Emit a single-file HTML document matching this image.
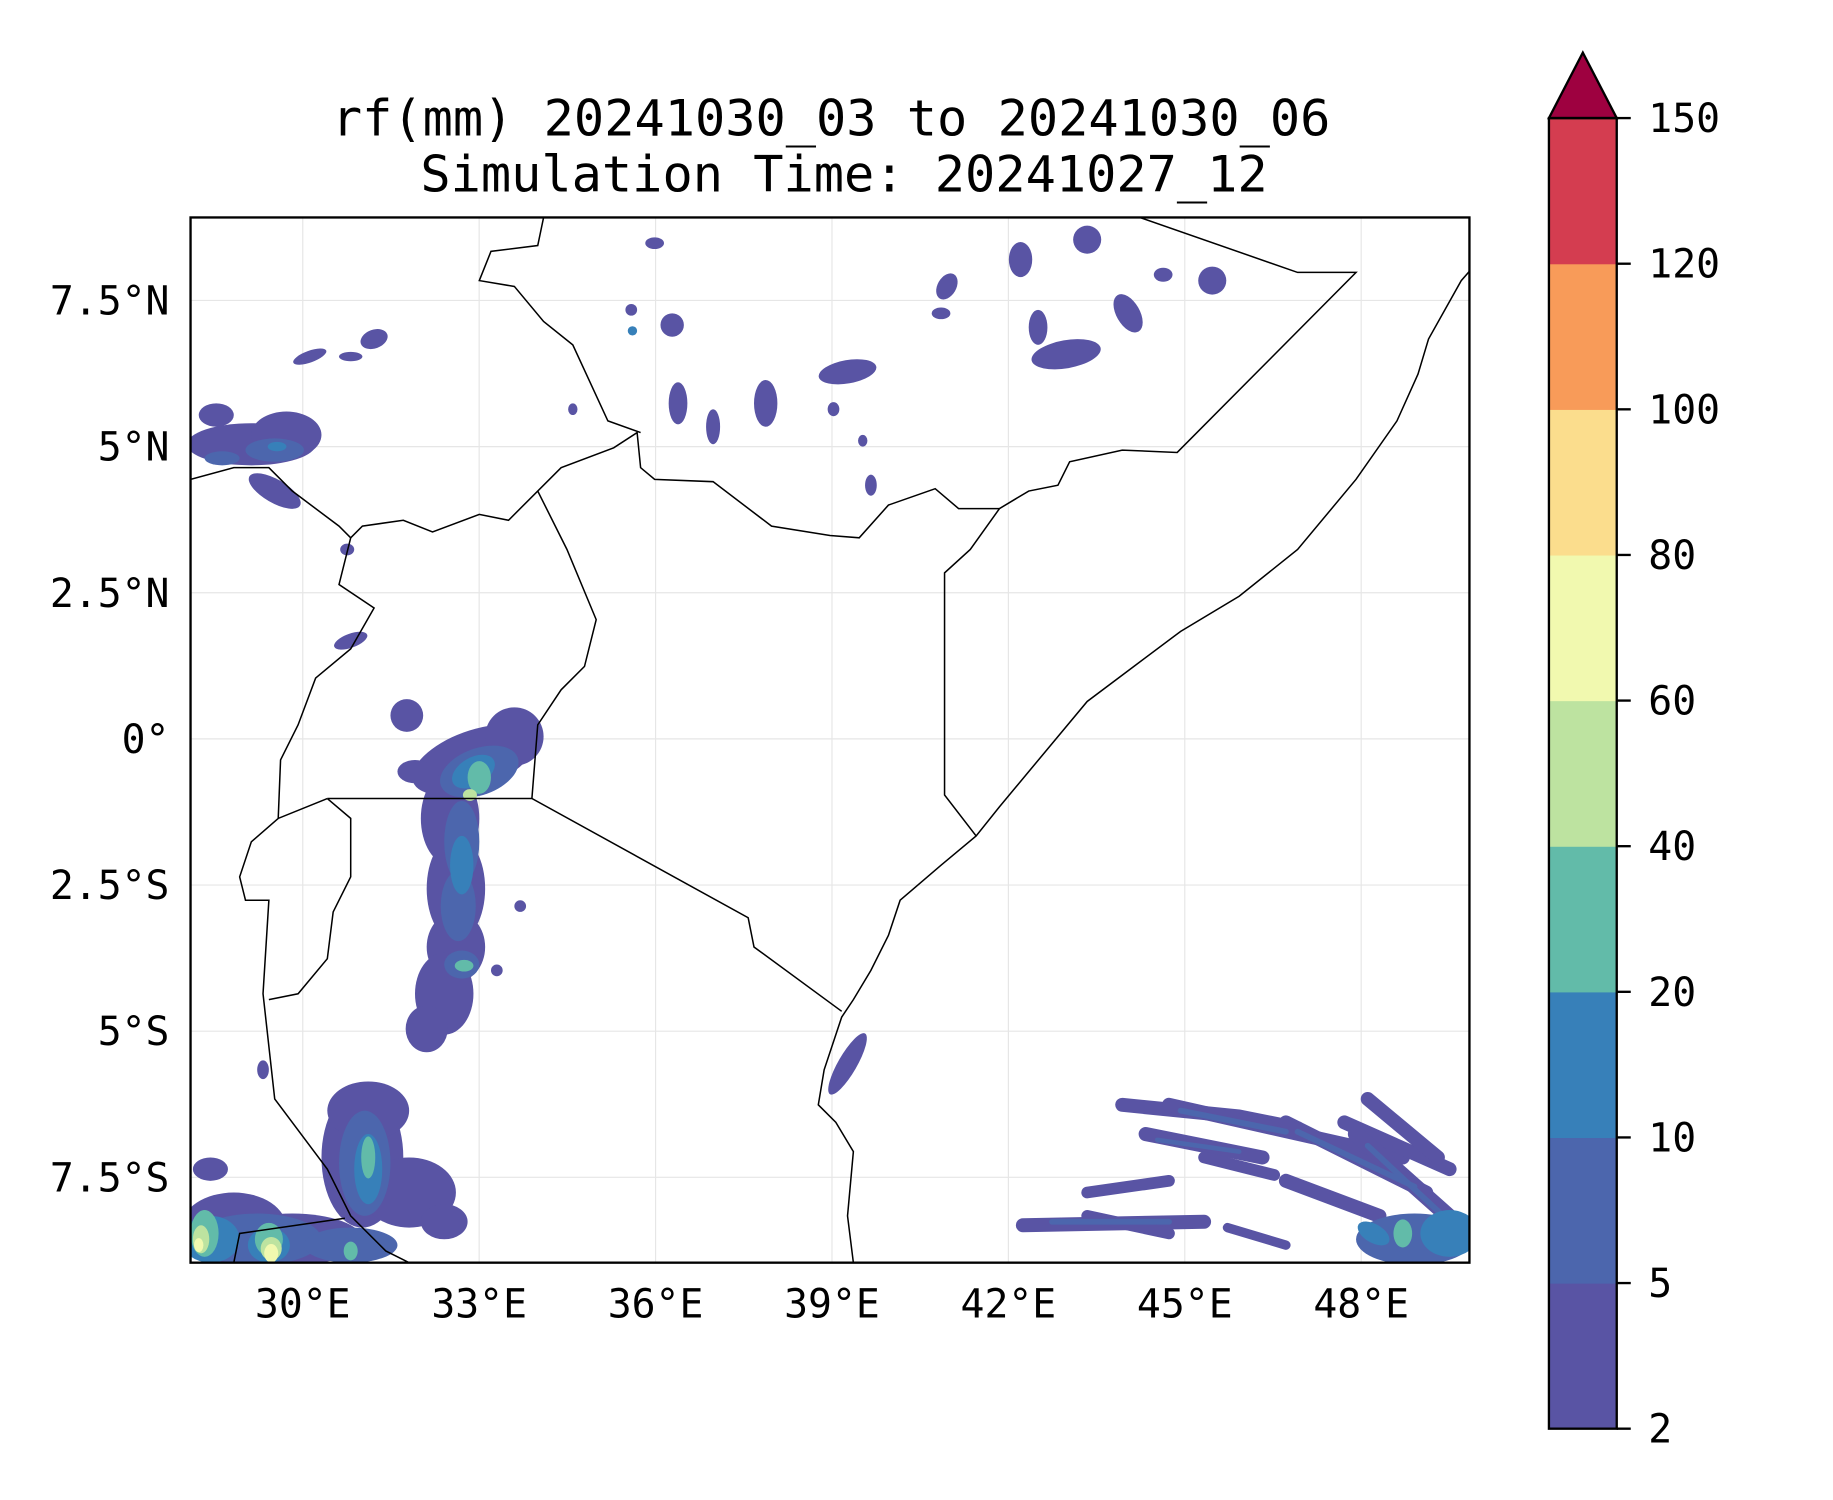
<!DOCTYPE html>
<html><head><meta charset="utf-8"><style>
html,body{margin:0;padding:0;background:#fff;}
svg{display:block;}
text{font-family:"DejaVu Sans Mono","Liberation Mono",monospace;fill:#000;}
</style></head><body>
<svg width="1833" height="1500" viewBox="0 0 1568 1283" preserveAspectRatio="none" xmlns="http://www.w3.org/2000/svg">
<defs><clipPath id="axclip"><rect x="163" y="186" width="1094" height="894"/></clipPath></defs>
<text x="711" y="116" font-size="43" text-anchor="middle">rf(mm) 20241030_03 to 20241030_06</text>
<text x="722" y="164" font-size="43" text-anchor="middle">Simulation Time: 20241027_12</text>
<g id="grid"></g>
<g id="rain" clip-path="url(#axclip)"></g>
<g id="borders" clip-path="url(#axclip)" fill="none" stroke="#000" stroke-width="1.3"></g>
<rect x="163" y="186" width="1094" height="894" fill="none" stroke="#000" stroke-width="2"/>
<g id="ticks"></g>
<g id="cbar"></g>
</svg>
<script>
const NS="http://www.w3.org/2000/svg";
const lonTicks=[30,33,36,39,42,45,48];
const lonLabels=["30°E","33°E","36°E","39°E","42°E","45°E","48°E"];
const latTicks=[7.5,5,2.5,0,-2.5,-5,-7.5];
const latLabels=["7.5°N","5°N","2.5°N","0°","2.5°S","5°S","7.5°S"];
const levels=[2,5,10,20,40,60,80,100,120,150];
const levelColors=["#5954a4","#4c66ad","#3780b9","#62bba9","#bde3a0","#f1f9af","#fbdd8d","#f89b59","#d43d50"];
const extendColor="#9e0140";
// rain blobs: [cx, cy, rx, ry, rotation, levelIndex] in map coordinates
const blobs=[
[405,650,55,25,-20,0],[440,630,25,25,0,0],[385,700,25,40,0,0],[390,760,25,45,0,0],[390,810,25,30,0,0],[380,850,25,35,0,0],[365,880,18,20,0,0],[348,612,14,14,0,0],[355,660,15,10,0,0],
[410,660,35,20,-20,1],[395,720,15,35,0,1],[392,775,15,30,0,1],[395,825,15,12,0,1],
[405,660,20,12,-30,2],[395,740,10,25,0,2],[410,665,10,14,0,3],[397,826,8,5,0,3],[402,680,6,5,0,4],
[310,990,35,60,0,0],[315,950,35,25,0,0],[350,1020,40,30,0,0],[200,1050,45,30,0,0],[250,1060,60,22,0,0],[380,1045,20,15,0,0],[180,1000,15,10,0,0],
[312,995,22,45,0,1],[220,1060,55,22,0,1],[300,1065,40,15,0,1],
[315,1000,12,30,0,2],[180,1060,25,20,0,2],[230,1065,18,15,0,2],
[315,990,6,18,0,3],[175,1055,12,20,0,3],[230,1060,12,14,0,3],[300,1070,6,8,0,3],
[172,1060,7,12,0,4],[232,1068,9,10,0,4],[232,1072,6,8,0,5],[170,1065,4,6,0,5],
[215,380,55,18,0,0],[245,372,30,20,0,0],[235,420,25,10,30,0],[320,290,12,8,-20,0],[265,305,15,5,-20,0],[300,305,10,4,0,0],[185,355,15,10,0,0],
[235,385,25,10,0,1],[190,392,15,6,0,1],[237,382,8,4,0,2],
[300,548,15,6,-20,0],[297,470,6,5,0,0],
[575,278,10,10,0,0],[580,345,8,18,0,0],[610,365,6,15,0,0],[655,345,10,20,0,0],[725,318,25,10,-10,0],[810,245,8,12,30,0],[805,268,8,5,0,0],[873,222,10,15,0,0],[930,205,12,12,0,0],[912,303,30,12,-10,0],[888,280,8,15,0,0],[965,268,10,18,-30,0],[1037,240,12,12,0,0],[995,235,8,6,0,0],[745,415,5,9,0,0],[713,350,5,6,0,0],[738,377,4,5,0,0],[490,350,4,5,0,0],[540,265,5,5,0,0],[560,208,8,5,0,0],[541,283,4,4,0,2],
[725,910,8,30,30,0],[225,915,5,8,0,0],[445,775,5,5,0,0],[425,830,5,5,0,0],
[1210,1060,50,22,0,1],[1240,1055,25,20,0,2],[1200,1055,8,12,0,3],[1175,1055,15,8,30,2]
];
// streaks: [levelIndex, width, points...]
const streaks=[
[0,12,[[960,945],[1060,955],[1110,965]]],[0,12,[[1000,945],[1200,990]]],[0,12,[[1100,960],[1220,1020]]],[0,12,[[1150,960],[1240,1000]]],
[0,12,[[980,970],[1080,990]]],[0,10,[[1030,990],[1090,1005]]],[0,10,[[930,1020],[1000,1010]]],[0,12,[[875,1048],[1030,1045]]],
[0,10,[[930,1040],[1000,1055]]],[0,8,[[1050,1050],[1100,1065]]],[0,12,[[1100,1010],[1180,1040]]],[0,14,[[1160,970],[1250,1050]]],[0,12,[[1170,940],[1230,990]]],
[1,5,[[1010,950],[1100,968]]],[1,5,[[1110,968],[1210,1015]]],[1,5,[[1170,980],[1240,1045]]],[1,5,[[900,1045],[1000,1045]]],[1,4,[[990,975],[1060,985]]]
];
const borders=[
[[1257,232],[1250,240],[1222,290],[1213,320],[1195,360],[1160,410],[1110,470],[1060,510],[1010,540],[970,570],[930,600],[880,660],[855,690],[835,715],[805,740],[770,770],[760,800],[745,830],[730,855],[720,870],[705,915],[700,945],[715,960],[730,985],[725,1040],[730,1080]],
[[975,186],[1110,233],[1160,233],[1007,387],[960,385],[915,395],[905,415],[880,420],[855,435],[830,470],[808,490],[808,680],[835,715]],
[[855,435],[820,435],[800,418],[760,432],[735,460],[710,458],[660,450],[610,412],[560,410],[548,400],[545,370],[525,383],[480,400],[435,445],[410,440],[370,455],[345,445],[310,450],[300,460]],
[[548,370],[520,360],[490,295],[465,275],[440,245],[410,240],[420,215],[460,210],[465,186]],
[[460,420],[485,470],[510,530],[500,570],[480,590],[460,620],[455,683]],
[[280,683],[455,683],[640,785],[645,810],[720,865]],
[[300,460],[290,500],[320,520],[300,555],[270,580],[255,620],[240,650],[238,700],[280,683]],
[[238,700],[215,720],[205,750],[210,770],[230,770],[225,850],[235,940],[280,1000],[300,1040],[330,1070],[350,1080]],
[[280,683],[300,700],[300,750],[285,780],[280,820],[255,850],[230,855]],
[[200,1080],[205,1055],[295,1042]],
[[163,410],[200,400],[230,400],[250,420],[290,450],[300,460]]
];
const xLon=lon=>259+(lon-30)*50.3;
const yLat=lat=>632-lat*50;
function el(t,a,p){const e=document.createElementNS(NS,t);for(const k in a)e.setAttribute(k,a[k]);p.appendChild(e);return e;}
const grid=document.getElementById('grid');
lonTicks.forEach(v=>{const l=el('line',{x1:xLon(v),x2:xLon(v),y1:186,y2:1080,stroke:'#e6e6e6','stroke-width':1},grid);

});
latTicks.forEach(v=>{const l=el('line',{x1:163,x2:1257,y1:yLat(v),y2:yLat(v),stroke:'#e6e6e6','stroke-width':1},grid);

});
const rain=document.getElementById('rain');
const lvOrder=[0,1,2,3,4,5,6];
lvOrder.forEach(lv=>{
 streaks.filter(s=>s[0]===lv).forEach(s=>{const p=el('polyline',{points:s[2].map(q=>q.join(',')).join(' '),fill:'none',stroke:levelColors[lv],'stroke-width':s[1],'stroke-linecap':'round','stroke-linejoin':'round'},rain);
 
 });
 blobs.filter(b=>b[5]===lv).forEach(b=>{const e=el('ellipse',{cx:b[0],cy:b[1],rx:b[2],ry:b[3],transform:`rotate(${b[4]} ${b[0]} ${b[1]})`,fill:levelColors[lv]},rain);
 
 });
});
const bd=document.getElementById('borders');
borders.forEach(b=>{const p=el('polyline',{points:b.map(q=>q.join(',')).join(' ')},bd);

});
const tk=document.getElementById('ticks');
lonTicks.forEach((v,i)=>{const t=el('text',{x:xLon(v),y:1127,'font-size':34,'text-anchor':'middle'},tk);t.textContent=lonLabels[i];

});
latTicks.forEach((v,i)=>{const t=el('text',{x:145,y:yLat(v)+12,'font-size':34,'text-anchor':'end'},tk);t.textContent=latLabels[i];

});
const cb=document.getElementById('cbar');
const cTop=101,cBot=1222,cL=1325,cR=1383,n=levels.length-1,step=(cBot-cTop)/n;
const yC=i=>cBot-i*step;
levelColors.forEach((c,i)=>{const r=el('rect',{x:cL,y:yC(i+1),width:cR-cL,height:step+0.5,fill:c},cb);

});
const tri=el('polygon',{points:`${cL},${cTop} ${cR},${cTop} ${(cL+cR)/2},45`,fill:extendColor,stroke:'#000','stroke-width':2},cb);


const fr=el('rect',{x:cL,y:cTop,width:cR-cL,height:cBot-cTop,fill:'none',stroke:'#000','stroke-width':2},cb);


levels.forEach((v,i)=>{el('line',{x1:cR,x2:cR+12,y1:yC(i),y2:yC(i),stroke:'#000','stroke-width':2},cb);
const t=el('text',{x:1410,y:yC(i)+12,'font-size':34},cb);t.textContent=v;

});
</script>
</body></html>
